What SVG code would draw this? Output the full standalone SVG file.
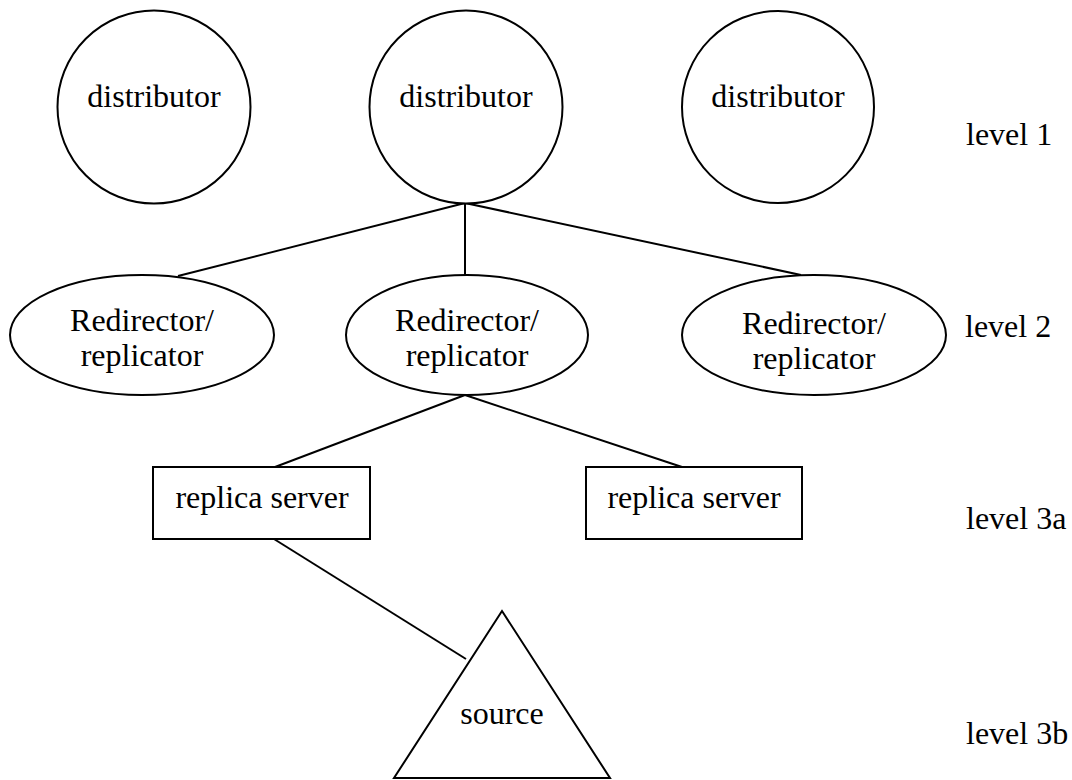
<svg xmlns="http://www.w3.org/2000/svg" width="1072" height="780" viewBox="0 0 1072 780">
  <style>
    .shape { fill: #ffffff; stroke: #000000; stroke-width: 2; }
    .edge { fill: none; stroke: #000000; stroke-width: 2; }
    text { font-family: "Liberation Serif", "Times New Roman", serif; font-size: 32px; fill: #000000; }
    .c { text-anchor: middle; }
  </style>
  <rect width="1072" height="780" fill="#ffffff"/>

  <!-- connectors -->
  <g id="connectors">
    <line class="edge" x1="465" y1="203" x2="178" y2="276"/>
    <line class="edge" x1="465" y1="203" x2="465" y2="275"/>
    <line class="edge" x1="465" y1="203" x2="801" y2="275"/>
    <line class="edge" x1="465" y1="395" x2="275" y2="467"/>
    <line class="edge" x1="465" y1="395" x2="682" y2="467"/>
    <line class="edge" x1="274" y1="539" x2="466" y2="659"/>
  </g>

  <!-- level 1: distributors -->
  <g id="distributor-1">
    <circle class="shape" cx="154" cy="107" r="96.5"/>
    <text class="c" x="154" y="107">distributor</text>
  </g>
  <g id="distributor-2">
    <circle class="shape" cx="466" cy="107" r="96.5"/>
    <text class="c" x="466" y="107">distributor</text>
  </g>
  <g id="distributor-3">
    <circle class="shape" cx="778" cy="107" r="96"/>
    <text class="c" x="778" y="107">distributor</text>
  </g>

  <!-- level 2: redirector / replicator -->
  <g id="redirector-1">
    <ellipse class="shape" cx="142" cy="335" rx="132" ry="60"/>
    <text class="c" x="142" y="331">Redirector/</text>
    <text class="c" x="142" y="366">replicator</text>
  </g>
  <g id="redirector-2">
    <ellipse class="shape" cx="467" cy="335" rx="121" ry="60"/>
    <text class="c" x="467" y="331">Redirector/</text>
    <text class="c" x="467" y="366">replicator</text>
  </g>
  <g id="redirector-3">
    <ellipse class="shape" cx="814" cy="335" rx="132" ry="60"/>
    <text class="c" x="814" y="334">Redirector/</text>
    <text class="c" x="814" y="369">replicator</text>
  </g>

  <!-- level 3a: replica servers -->
  <g id="replica-1">
    <rect class="shape" x="153" y="467" width="217" height="72"/>
    <text class="c" x="262" y="508">replica server</text>
  </g>
  <g id="replica-2">
    <rect class="shape" x="586" y="467" width="216" height="72"/>
    <text class="c" x="694" y="508">replica server</text>
  </g>

  <!-- level 3b: source -->
  <g id="source">
    <polygon class="shape" points="502,611 394,778 610,778"/>
    <text class="c" x="502" y="724">source</text>
  </g>

  <!-- level labels -->
  <g id="level-labels">
    <text x="966" y="145">level 1</text>
    <text x="965" y="337">level 2</text>
    <text x="966" y="529">level 3a</text>
    <text x="966" y="744">level 3b</text>
  </g>
</svg>
